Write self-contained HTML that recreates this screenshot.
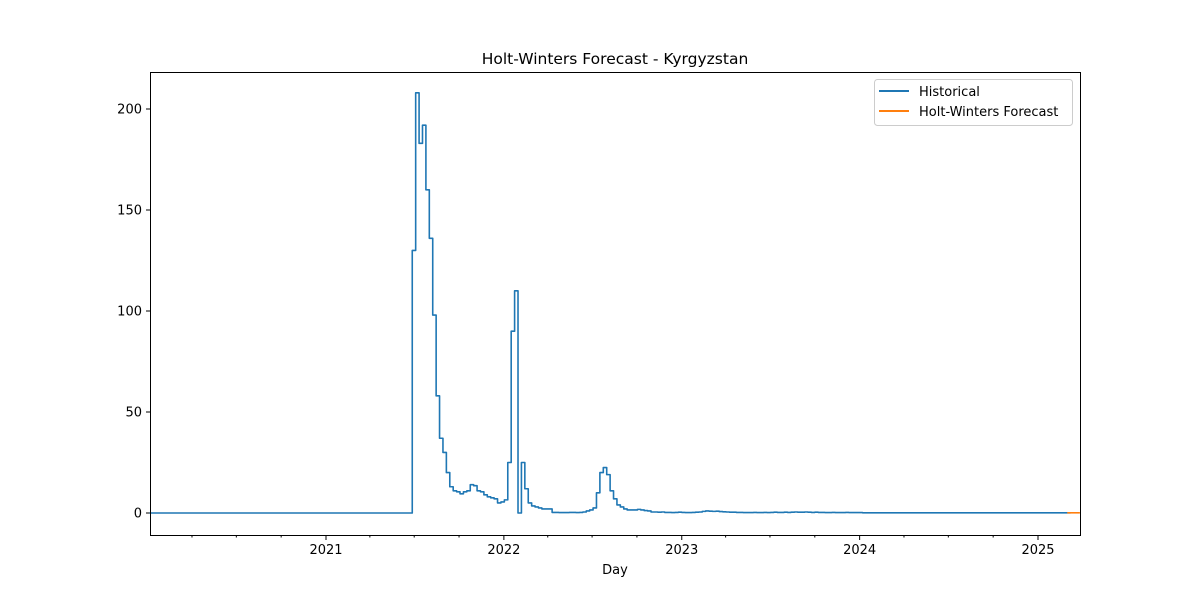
<!DOCTYPE html>
<html><head><meta charset="utf-8"><style>
html,body{margin:0;padding:0;background:#fff;}
svg{display:block;font-family:"DejaVu Sans","Liberation Sans",sans-serif;}
</style></head><body>
<svg id="chart" width="1200" height="600">
<rect width="1200" height="600" fill="#fff"/>
<text x="615" y="64" text-anchor="middle" font-size="15.5" fill="#000">Holt-Winters Forecast - Kyrgyzstan</text>
<g id="yaxis"></g>
<g id="xaxis"></g>
<g id="series"></g>
<rect x="150.5" y="72.5" width="930" height="463" fill="none" stroke="#000" stroke-width="1"/>
<text x="615" y="574" text-anchor="middle" font-size="13">Day</text>
<g>
<rect x="874.5" y="79.5" width="198" height="46" rx="3" fill="#fff" fill-opacity="0.8" stroke="#ccc"/>
<line x1="879" y1="91" x2="909" y2="91" stroke="#1f77b4" stroke-width="2"/>
<text x="919" y="96" font-size="13">Historical</text>
<line x1="879" y1="111" x2="909" y2="111" stroke="#ff7f0e" stroke-width="2"/>
<text x="919" y="116" font-size="13">Holt-Winters Forecast</text>
</g>
</svg>
<script>
const histStart = "2020-01-05";
const histValues = [
0,0,0,0,0,0,0,0,0,0,0,0,0,0,0,0,0,0,0,0,0,0,0,0,0,0,0,0,0,0,0,0,0,0,0,0,0,0,0,0,
0,0,0,0,0,0,0,0,0,0,0,0,0,0,0,0,0,0,0,0,0,0,0,0,0,0,0,0,0,0,0,0,0,0,0,0,0,
130,208,183,192,160,136,98,58,37,30,20,13,11,10.5,9.5,10.5,11,14,13.5,11,10.5,9,8,7.5,7,5,5.5,6.5,25,90,110,0,25,12,5,3.5,3,2.5,2,2,2,
0.3,0.3,0.2,0.2,0.2,0.3,0.3,0.2,0.3,0.5,1,1.5,
2.5,10,20,22.5,19,11,7,4,3,2,1.5,1.5,1.5,1.8,1.5,1.2,1,0.5,0.5,
0.4,0.5,0.3,0.3,0.2,0.3,0.4,0.3,0.2,0.2,0.3,0.4,
0.5,0.8,1,0.9,0.8,0.9,0.7,0.6,0.5,0.4,0.4,0.3,0.3,0.2,0.2,
0.2,0.3,0.2,0.2,0.3,0.2,0.3,0.4,0.3,0.3,0.4,0.3,0.4,0.5,0.4,0.4,0.5,0.4,0.3,0.4,
0.3,0.3,0.2,0.2,0.3,0.2,0.2,0.2,0.3,0.2,0.2,0.2,0.2,0.1,0.1,0.1,0.1,0.1,0.1,0.1,
0.1,0.1,0.1,0.1,0.1,0.1,0.1,0.1,0.1,0.1,0.1,0.1,0.1,0.1,0.1,0.1,0.1,0.1,0.1,0.1,
0.1,0.1,0.1,0.1,0.1,0.1,0.1,0.1,0.1,0.1,0.1,0.1,0.1,0.1,0.1,0.1,0.1,0.1,0.1,0.1,
0.1,0.1,0.1,0.1,0.1,0.1,0.1,0.1,0.1,0.1,0.1,0.1,0.1,0.1
];
const forecastDates = ["2025-03-02","2025-03-09","2025-03-16","2025-03-23","2025-03-28"];
const forecastValues = [0.1,0.1,0.1,0.1,0.1];
const yTicks = [0,50,100,150,200];
const xTickLabels = ["2021","2022","2023","2024","2025"];

const NS="http://www.w3.org/2000/svg";
const t0=Date.parse("2021-01-01"), t1=Date.parse("2025-01-01");
const xs=d=>326+(Date.parse(d)-t0)/(t1-t0)*712;
const xt=t=>326+(t-t0)/(t1-t0)*712;
const ys=v=>513-v*2.02;
function mk(tag,attrs,parent){const e=document.createElementNS(NS,tag);for(const k in attrs)e.setAttribute(k,attrs[k]);parent.appendChild(e);return e;}
const yg=document.getElementById('yaxis'), xg=document.getElementById('xaxis'), sg=document.getElementById('series');
yTicks.forEach(v=>{
  const y=ys(v);
  const l=mk('line',{x1:146,x2:150,y1:y,y2:y,stroke:'#000'},yg);
  
  
  const t=mk('text',{x:142,y:y+4.5,'text-anchor':'end','font-size':13},yg);
  t.textContent=v;
  
  
});
for(let yr=2020;yr<=2025;yr++){for(let m=0;m<12;m+=3){
  const x=xt(Date.UTC(yr,m,1));
  if(x<149||x>1081)continue;
  const major=m===0&&yr>=2021;
  const l=mk('line',{x1:x,x2:x,y1:535,y2:major?540:537.5,stroke:'#000'},xg);
  
  
}}
xTickLabels.forEach(lbl=>{
  const x=xs(lbl+"-01-01");
  const t=mk('text',{x:x,y:554,'text-anchor':'middle','font-size':13},xg);
  t.textContent=lbl;
  
  
});
const s0=Date.parse(histStart), wk=7*864e5;
let d='';
histValues.forEach((v,i)=>{
  const x=xt(s0+i*wk), y=ys(v);
  if(i===0)d+=`M${x},${y}`;else d+=`H${x}V${y}`;
});
d+=`H${xt(s0+histValues.length*wk)}`;
const hp=mk('path',{d:d,fill:'none',stroke:'#1f77b4','stroke-width':1.6,'stroke-linejoin':'round'},sg);


let fd='';
forecastDates.forEach((dt,i)=>{fd+=(i?'L':'M')+xs(dt)+','+ys(forecastValues[i]);});
const fp=mk('path',{d:fd,fill:'none',stroke:'#ff7f0e','stroke-width':1.6},sg);


</script>
</body></html>
